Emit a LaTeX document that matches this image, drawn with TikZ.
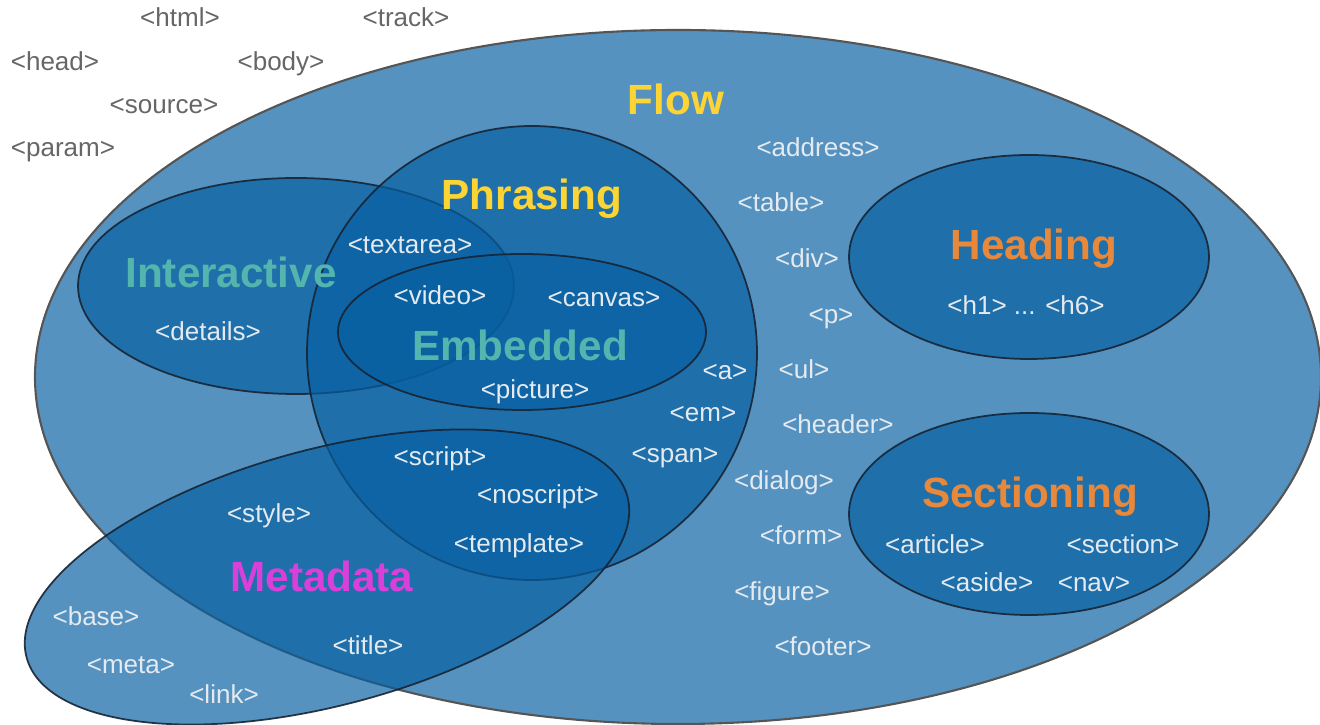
\documentclass[tikz,border=0pt]{standalone}
\usepackage{fontspec}
\setmainfont{Liberation Sans}
\definecolor{setfill}{RGB}{6,95,161}
\definecolor{flowline}{RGB}{85,85,85}
\definecolor{setline}{RGB}{22,36,52}
\definecolor{taglight}{RGB}{228,234,240}
\definecolor{taggray}{RGB}{102,102,102}
\definecolor{ttyellow}{RGB}{252,212,52}
\definecolor{ttorange}{RGB}{232,136,58}
\definecolor{ttteal}{RGB}{84,180,174}
\definecolor{ttmagenta}{RGB}{218,64,217}
\tikzset{
  setarea/.style={fill=setfill, fill opacity=0.68, draw=setline, draw opacity=0.9, line width=0.5pt},
  flowarea/.style={fill=setfill, fill opacity=0.68, draw=flowline, line width=0.6pt},
  tag/.style={inner sep=0pt, text height=0.51em, text depth=0pt, text=taglight, font=\fontsize{7.4}{9}\selectfont},
  outtag/.style={tag, text=taggray},
  title/.style={inner sep=0pt, text height=0.82em, text depth=0pt, font=\bfseries\fontsize{12}{14}\selectfont},
}
\begin{document}
\begin{tikzpicture}[x=0.01cm,y=-0.01cm]
\useasboundingbox (0,0) rectangle (1320,725);
% sets
\path[flowarea] (678,377) ellipse [x radius=643, y radius=347];
\path[setarea] (296,286) ellipse [x radius=218, y radius=108];
\path[setarea] (532,353) ellipse [x radius=225, y radius=227];
\path[setarea] (522,332) ellipse [x radius=184, y radius=78];
\path[setarea, rotate around={15:(327,577)}] (327,577) ellipse [x radius=311, y radius=128];
\path[setarea] (1029,257) ellipse [x radius=180, y radius=102];
\path[setarea] (1029,514) ellipse [x radius=180, y radius=101];
% outside tags
\node[outtag] (html) at (180,18) {<html>};
\node[outtag] (track) at (406,18) {<track>};
\node[outtag] (head) at (55,62) {<head>};
\node[outtag] (body) at (281,62) {<body>};
\node[outtag] (source) at (164,105) {<source>};
\node[outtag] (param) at (63,148) {<param>};
% titles
\node[title, text=ttyellow] (flowt) at (676,100) {Flow};
\node[title, text=ttyellow] (phrt) at (532,195) {Phrasing};
\node[title, text=ttteal] (intt) at (231,273) {Interactive};
\node[title, text=ttteal] (embt) at (520,346) {Embedded};
\node[title, text=ttmagenta] (metat) at (322,577) {Metadata};
\node[title, text=ttorange] (headt) at (1034,245) {Heading};
\node[title, text=ttorange] (sect) at (1030,493) {Sectioning};
% flow tags
\node[tag] (address) at (818,148) {<address>};
\node[tag] (table) at (781,203) {<table>};
\node[tag] (div) at (807,259) {<div>};
\node[tag] (p) at (831,315) {<p>};
\node[tag] (ul) at (804,370) {<ul>};
\node[tag] (header) at (838,425) {<header>};
\node[tag] (dialog) at (784,481) {<dialog>};
\node[tag] (form) at (801,536) {<form>};
\node[tag] (figure) at (782,592) {<figure>};
\node[tag] (footer) at (823,647) {<footer>};
% phrasing / embedded / interactive
\node[tag] (textarea) at (410,245) {<textarea>};
\node[tag] (video) at (440,296) {<video>};
\node[tag] (canvas) at (604,298) {<canvas>};
\node[tag] (picture) at (535,390) {<picture>};
\node[tag] (a) at (725,371) {<a>};
\node[tag] (em) at (703,413) {<em>};
\node[tag] (span) at (675,454) {<span>};
\node[tag] (details) at (208,332) {<details>};
% metadata
\node[tag] (script) at (440,457) {<script>};
\node[tag] (noscript) at (538,495) {<noscript>};
\node[tag] (template) at (519,544) {<template>};
\node[tag] (style) at (269,514) {<style>};
\node[tag] (base) at (96,617) {<base>};
\node[tag] (meta) at (131,665) {<meta>};
\node[tag] (link) at (224,695) {<link>};
\node[tag] (titletag) at (368,646) {<title>};
% heading / sectioning
\node[tag] (hx) at (1026,306) {<h1> ... <h6>};
\node[tag] (article) at (935,545) {<article>};
\node[tag] (section) at (1123,545) {<section>};
\node[tag] (aside) at (987,583) {<aside>};
\node[tag] (nav) at (1094,583) {<nav>};
\end{tikzpicture}
\end{document}
